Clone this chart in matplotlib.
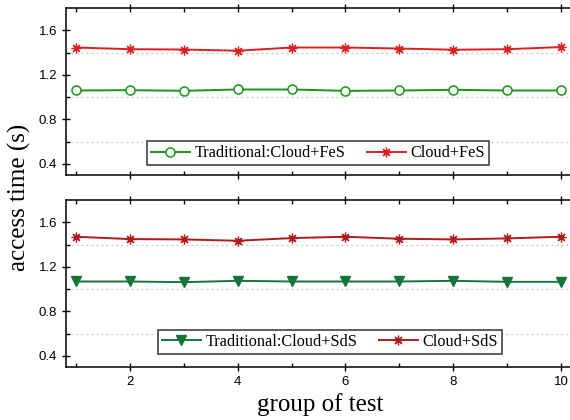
import matplotlib
matplotlib.use("Agg")
import matplotlib.pyplot as plt
from matplotlib.ticker import MultipleLocator

groups = [1, 2, 3, 4, 5, 6, 7, 8, 9, 10]
trad_fes = [1.059, 1.062, 1.056, 1.068, 1.068, 1.056, 1.059, 1.065, 1.059, 1.059]
cloud_fes = [1.445, 1.430, 1.427, 1.416, 1.445, 1.445, 1.436, 1.425, 1.430, 1.449]
trad_sds = [1.068, 1.068, 1.062, 1.074, 1.068, 1.068, 1.068, 1.074, 1.065, 1.065]
cloud_sds = [1.470, 1.449, 1.446, 1.434, 1.458, 1.470, 1.452, 1.446, 1.455, 1.470]

serif = "Liberation Serif"
sans = "Liberation Sans"
asterisk = (8, 2, 0)

fig = plt.figure(figsize=(5.7, 4.2), dpi=100)
ax1 = fig.add_axes([0.1158, 0.5833, 0.8842, 0.3977])
ax2 = fig.add_axes([0.1158, 0.1262, 0.8842, 0.3976])

ax1.plot(groups, trad_fes, color="#1a961a", lw=1.4, marker="o", ms=6.5,
         mfc="white", mec="#1a961a", mew=1.1, label="Traditional:Cloud+FeS")
ax1.plot(groups, cloud_fes, color="#dd1f1f", lw=1.4, marker=asterisk, ms=7,
         mec="#dd1f1f", mew=0.9, label="Cloud+FeS")

ax2.plot(groups, trad_sds, color="#16743a", lw=1.4, marker="v", ms=7,
         mfc="#16743a", mec="#16743a", label="Traditional:Cloud+SdS")
ax2.plot(groups, cloud_sds, color="#b01a1a", lw=1.4, marker=asterisk, ms=7,
         mec="#b01a1a", mew=0.9, label="Cloud+SdS")

for ax in (ax1, ax2):
    ax.set_xlim(0.814, 10.167)
    ax.set_ylim(0.3, 1.8)
    ax.xaxis.set_major_locator(MultipleLocator(2))
    ax.xaxis.set_minor_locator(MultipleLocator(1))
    ax.set_yticks([0.4, 0.8, 1.2, 1.6])
    ax.set_yticklabels(["0.4", "0.8", "1.2", "1.6"], fontfamily=sans, fontsize=9.5)
    ax.set_yticks([0.6, 1.0, 1.4], minor=True)
    ax.spines["right"].set_visible(False)
    for s in ("left", "top", "bottom"):
        ax.spines[s].set_linewidth(1.1)
    ax.grid(which="minor", axis="y", color="#c4c4c4", ls=(0, (1.5, 2.5)), lw=0.9)
    ax.tick_params(which="major", direction="inout", length=6, width=1.0, top=True)
    ax.tick_params(which="minor", direction="in", length=3, width=1.0, top=True)

ax1.tick_params(axis="x", labelbottom=False)
ax2.set_xticks([2, 4, 6, 8, 10])
ax2.set_xticklabels(["2", "4", "6", "8", "10"], fontfamily=sans, fontsize=9.5)

leg_kw = dict(ncol=2, numpoints=1, frameon=True, fancybox=False, framealpha=1,
              edgecolor="#333333", handlelength=2.4, handletextpad=0.3,
              columnspacing=1.3, borderpad=0.25, borderaxespad=0,
              prop={"family": serif, "size": 11.7})
l1 = ax1.legend(loc="upper left", bbox_to_anchor=(0.160, 0.202), **leg_kw)
l2 = ax2.legend(loc="upper left", bbox_to_anchor=(0.182, 0.222), **leg_kw)
for l in (l1, l2):
    l.get_frame().set_linewidth(1.1)

fig.text(0.035, 0.529, "access time (s)", rotation=90, ha="center", va="center",
         fontfamily=serif, fontsize=18)
fig.text(0.561, 0.036, "group of test", ha="center", va="center",
         fontfamily=serif, fontsize=18)

fig.savefig("out.png", dpi=100)
